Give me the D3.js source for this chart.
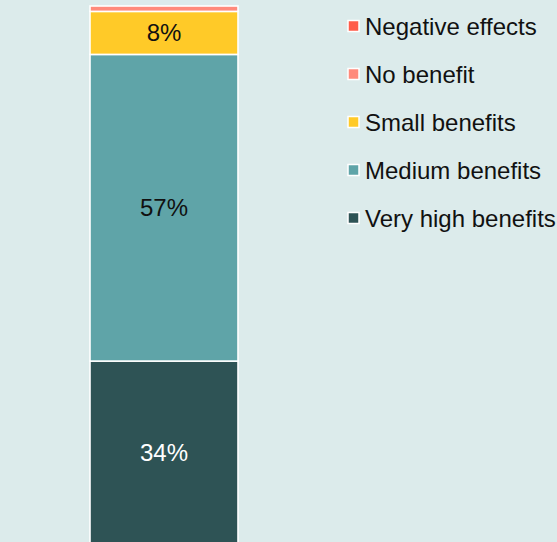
<!DOCTYPE html>
<html>
<head>
<meta charset="utf-8">
<script src="https://cdn.jsdelivr.net/npm/d3@7"></script>
<style>
  html, body { margin: 0; padding: 0; background: #dcebeb; }
  svg { display: block; }
  text { font-family: "Liberation Sans", Arial, Helvetica, sans-serif; }
</style>
</head>
<body>
<svg id="chart" width="557" height="542"></svg>
<script>
// Share of respondents by perceived benefit (percent)
const categories = ["All"];
const seriesNames = ["Very high benefits", "Medium benefits", "Small benefits", "No benefit", "Negative effects"];
const seriesValues = [34, 57, 8, 1, 0];
const seriesColors = ["#2e5355", "#5fa4a8", "#ffca28", "#ff8a7b", "#ff5c4a"];
const labelColors = ["#ffffff", "#111111", "#111111", "#111111", "#111111"];
const legendOrder = ["Negative effects", "No benefit", "Small benefits", "Medium benefits", "Very high benefits"];

const svg = d3.select("#chart");

const row = { category: categories[0] };
seriesNames.forEach((n, i) => row[n] = seriesValues[i]);

const stacked = d3.stack().keys(seriesNames)([row]);

const x = d3.scaleBand().domain(categories).range([90, 238]).padding(0);
const y = d3.scaleLinear().domain([0, 100]).range([544, 6]);
const color = d3.scaleOrdinal().domain(seriesNames).range(seriesColors);

const layers = svg.append("g").selectAll("g")
  .data(stacked)
  .join("g")
  .attr("fill", d => color(d.key));

layers.selectAll("rect")
  .data(d => d.map(p => ({ key: d.key, p })))
  .join("rect")
  .attr("x", d => x(d.p.data.category))
  .attr("width", x.bandwidth())
  .attr("y", d => y(d.p[1]))
  .attr("height", d => y(d.p[0]) - y(d.p[1]))
  .attr("stroke", "#ffffff")
  .attr("stroke-width", 1.6);

// Value labels for segments big enough to hold text
layers.selectAll("text")
  .data(d => d.map(p => ({ key: d.key, p })).filter(e => e.p[1] - e.p[0] >= 5))
  .join("text")
  .attr("x", d => x(d.p.data.category) + x.bandwidth() / 2)
  .attr("y", d => (y(d.p[0]) + y(d.p[1])) / 2)
  .attr("text-anchor", "middle")
  .attr("dominant-baseline", "central")
  .attr("font-size", 24)
  .attr("fill", d => labelColors[seriesNames.indexOf(d.key)])
  .text(d => Math.round(d.p[1] - d.p[0]) + "%");

// Legend
const legend = svg.append("g").attr("transform", "translate(348,0)");
const items = legend.selectAll("g")
  .data(legendOrder)
  .join("g")
  .attr("transform", (d, i) => `translate(0,${26 + i * 48})`);

items.append("rect")
  .attr("x", 0)
  .attr("y", -5.5)
  .attr("width", 11)
  .attr("height", 11)
  .attr("fill", d => color(d))
  .attr("stroke", "#ffffff")
  .attr("stroke-width", 1.5);

items.append("text")
  .attr("x", 17)
  .attr("y", 0)
  .attr("dominant-baseline", "central")
  .attr("font-size", 24)
  .attr("fill", "#111111")
  .text(d => d);
</script>
</body>
</html>
